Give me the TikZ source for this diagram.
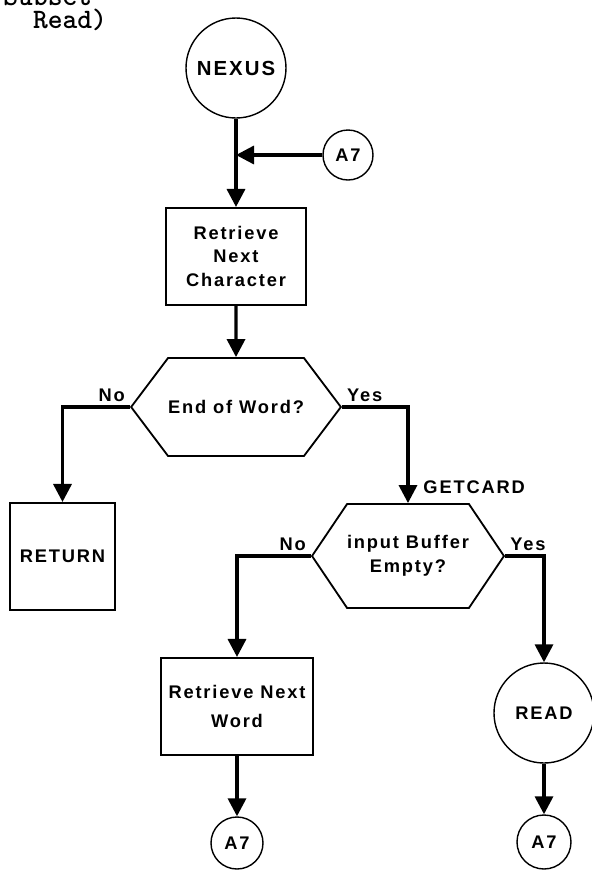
\documentclass[tikz,border=0pt]{standalone}
\usepackage{fontspec}
\usepackage{tikz}
\usetikzlibrary{positioning,arrows.meta,shapes.symbols,calc}

\newfontfamily\letterfont[LetterSpace=10]{Liberation Sans}

\tikzset{
  flow/.style={-{Triangle[length=0.45cm,width=0.45cm]}, line width=2.4pt},
  procbox/.style={draw, rectangle, line width=1.3pt, align=center},
  term/.style={draw, circle, line width=1pt, inner sep=0pt},
  decide/.style={draw, signal, signal to=west and east, line width=1.3pt, align=center, inner sep=0pt},
  tag/.style={inner sep=2.5pt},
  heading/.style={anchor=base west, inner sep=0pt, align=left, font=\ttfamily\bfseries\fontsize{20}{16.3}\selectfont},
}

\begin{document}
\begin{tikzpicture}[font=\letterfont\bfseries\fontsize{13}{17}\selectfont]
  \useasboundingbox (0,0) rectangle (14.8,-21.75);
  \fill[white] (0,0) rectangle (14.8,-21.75);
  \clip (0,0) rectangle (14.8,-21.75);

  % title, top line runs off the page (base = last line)
  \node[heading] (head) at (0.08,-0.7) {Subset\\~~Read)};

  \node[term, minimum size=2.5cm, font=\letterfont\bfseries\fontsize{14.5}{17}\selectfont] (nexus) at (5.9,-1.7) {NEXUS};
  \node[term, minimum size=1.25cm] (a7top) at (8.7,-3.875) {A7};
  \node[procbox, minimum width=3.5cm, minimum height=2.425cm] (getchar) at (5.9,-6.41) {Retrieve\\Next\\Character};
  \node[decide, minimum width=4.35cm, minimum height=2.45cm, signal pointer angle=106] (endword) at (5.9,-10.175) {End of Word?};
  \node[procbox, minimum width=2.625cm, minimum height=2.675cm] (ret) at (1.5625,-13.91) {RETURN};
  \node[decide, minimum width=4.325cm, minimum height=2.6cm, signal pointer angle=112] (bufempty) at (10.2,-13.9) {input Buffer\\Empty?};
  \node[procbox, minimum width=3.8cm, minimum height=2.425cm] (getword) at (5.925,-17.66) {Retrieve Next\\[3pt]Word};
  \node[term, minimum size=1.3cm] (a7left) at (5.925,-21.075) {A7};
  \node[term, minimum size=2.5cm] (read) at (13.6,-17.825) {READ};
  \node[term, minimum size=1.35cm] (a7right) at (13.6,-21.05) {A7};

  % connectors
  \coordinate (join) at (nexus |- a7top);
  \draw[flow] (nexus) -- (getchar);
  \draw[flow] (a7top) -- (join);
  \draw[flow] (getchar) -- (endword);
  \draw[flow] (endword.west) node[tag, above left] {No} -| (ret.north);
  \draw[flow] (endword.east) node[tag, above right] {Yes} -| (bufempty.north);
  \node[tag, anchor=west, inner sep=0pt] (getcard) at ([xshift=0.38cm,yshift=0.4cm]bufempty.north) {GETCARD};
  \draw[flow] (bufempty.west) node[tag, above left] {No} -| (getword.north);
  \draw[flow] (bufempty.east) node[tag, above right] {Yes} -| (read.north);
  \draw[flow] (getword) -- (a7left);
  \draw[flow] (read) -- (a7right);
\end{tikzpicture}
\end{document}
